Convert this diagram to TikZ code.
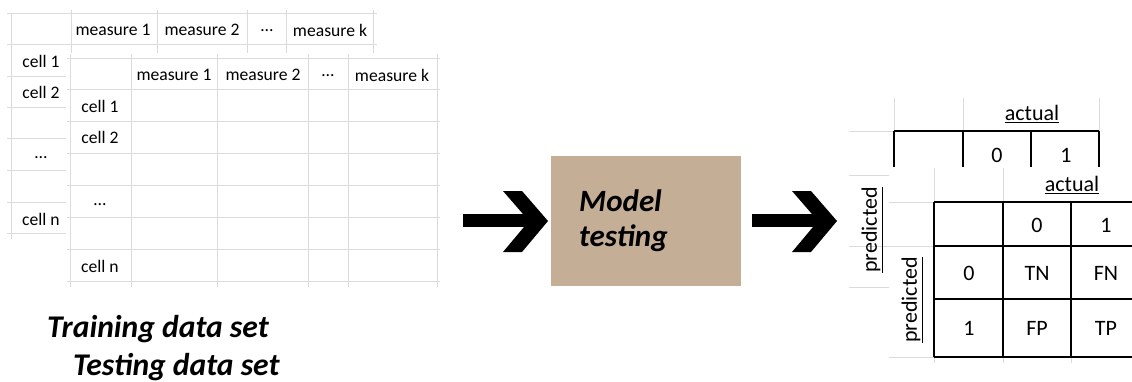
\documentclass[tikz,border=0pt]{standalone}
\usepackage{fontspec}
\setmainfont{Carlito}
\begin{document}
\begin{tikzpicture}[x=1pt,y=-1pt,
  gridline/.style={draw=black!14,line width=0.9pt},
  blkline/.style={draw=black,line width=1.6pt},
  tabtext/.style={font=\fontsize{17.6}{20}\selectfont,inner sep=0pt},
  cmtext/.style={font=\fontsize{22}{25}\selectfont,inner sep=0pt},
  bigtext/.style={font=\fontsize{31.6}{36}\selectfont\bfseries\itshape,inner sep=0pt},
  modeltext/.style={font=\fontsize{31}{36}\selectfont\bfseries\itshape,inner sep=0pt},
  modelbox/.style={fill=modeltan,draw=none,minimum width=190pt,minimum height=130pt,inner sep=0pt},
  arrowfill/.style={fill=black,draw=none}]
\definecolor{modeltan}{RGB}{197,174,150}
\useasboundingbox (0,0) rectangle (1132,381);
\clip (0,0) rectangle (1132,381);

% ---------- back table ----------
\foreach \y in {13,44} \draw[gridline] (7,\y) -- (377,\y);
\foreach \y in {76,107,138,170,202,233} \draw[gridline] (7,\y) -- (66,\y);
\draw[gridline] (11,13) -- (11,239);
\foreach \x in {71,157,247,286,373} \draw[gridline] (\x,10) -- (\x,53);
\node[tabtext] (bm1) at (113,30) {measure 1};
\node[tabtext] (bm2) at (202,30) {measure 2};
\node[tabtext] (bmd) at (267,31) {…};
\node[tabtext] (bmk) at (330,30) {measure k};
\node[tabtext] (bc1) at (41,61) {cell 1};
\node[tabtext] (bc2) at (41,92) {cell 2};
\node[tabtext] (bcd) at (41,158) {…};
\node[tabtext] (bcn) at (41,219) {cell n};

% ---------- front table ----------
\foreach \y in {58,89,121,153,185,217,249,281} \draw[gridline] (67,\y) -- (440,\y);
\foreach \x in {70,131,217,308,348,437} \draw[gridline] (\x,54) -- (\x,287);
\node[tabtext] (fm1) at (174,75) {measure 1};
\node[tabtext] (fm2) at (263,75) {measure 2};
\node[tabtext] (fmd) at (328,76) {…};
\node[tabtext] (fmk) at (392,75) {measure k};
\node[tabtext] (fc1) at (100,106) {cell 1};
\node[tabtext] (fc2) at (100,137) {cell 2};
\node[tabtext] (fcd) at (100,205) {…};
\node[tabtext] (fcn) at (100,266) {cell n};

% ---------- captions ----------
\node[bigtext,anchor=base west] (train) at (47,337) {Training data set};
\node[bigtext,anchor=base west] (test) at (73,375) {Testing data set};

% ---------- model box ----------
\node[modelbox,anchor=north west] (model) at (551,156) {};
\node[modeltext,anchor=base west] (mt1) at (579,211) {Model};
\node[modeltext,anchor=base west] (mt2) at (579,246) {testing};

% ---------- arrows ----------
\foreach \dx in {0,289} {
  \begin{scope}[xshift=\dx]
    \fill[arrowfill] (463,214) rectangle (533,227);
    \fill[arrowfill] (503,191) -- (522,191) -- (548,221) -- (522,252) -- (503,252) -- (529,221) -- cycle;
  \end{scope}
}

% ---------- back confusion matrix ----------
\foreach \x in {894,963,1099} \draw[gridline] (\x,98) -- (\x,131);
\draw[gridline] (849,131) -- (894,131);
\draw[blkline] (894,131) -- (1099,131);
\foreach \x in {894,963,1031,1099} \draw[blkline] (\x,131) -- (\x,167);
\node[cmtext] (bact) at (1032,114) {\underline{actual}};
\node[cmtext] (bc0) at (997,155) {0};
\node[cmtext] (bcone) at (1066,155) {1};
\foreach \y in {175,287} \draw[gridline] (849,\y) -- (889,\y);
\draw[gridline] (849,246) -- (934,246);
\draw[gridline] (889,202) -- (934,202);
\draw[gridline] (889,357) -- (934,357);
\node[cmtext,rotate=90] (bpred) at (872,230) {\underline{predicted}};

% ---------- front confusion matrix ----------
\draw[gridline] (934,168) -- (934,202);
\draw[gridline] (1003,168) -- (1003,202);
\draw[gridline] (934,357) -- (934,363);
\draw[gridline] (1003,357) -- (1003,363);
\draw[gridline] (1071,357) -- (1071,363);
\foreach \y in {202,246,299,357} \draw[blkline] (934,\y) -- (1134,\y);
\foreach \x in {934,1003,1071} \draw[blkline] (\x,202) -- (\x,357);
\node[cmtext] (fact) at (1072,185) {\underline{actual}};
\node[cmtext] (fh0) at (1037,225) {0};
\node[cmtext] (fh1) at (1106,225) {1};
\node[cmtext] (fr0) at (969,273) {0};
\node[cmtext] (fr1) at (969,328) {1};
\node[cmtext] (tn) at (1037,273) {TN};
\node[cmtext] (fn) at (1106,273) {FN};
\node[cmtext] (fp) at (1037,328) {FP};
\node[cmtext] (tp) at (1106,328) {TP};
\node[cmtext,rotate=90] (fpred) at (912,300) {\underline{predicted}};
\end{tikzpicture}
\end{document}
